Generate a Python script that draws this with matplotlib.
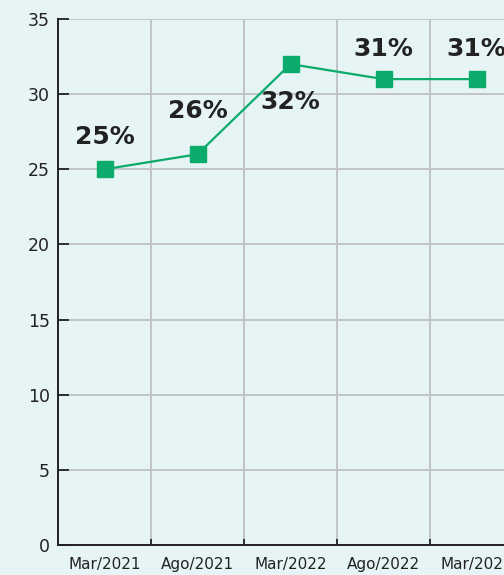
import numpy as np
import matplotlib.pyplot as plt

periods = ['Mar/2021', 'Ago/2021', 'Mar/2022', 'Ago/2022', 'Mar/2023']
values = [25, 26, 32, 31, 31]
labels = ['25%', '26%', '32%', '31%', '31%']

bg = '#e6f4f5'
green = '#0bab6b'
# label offsets in points (negative = below the marker)
label_offsets = [23, 31, -27, 21.5, 21.5]

fig = plt.figure(figsize=(5.04, 5.75), dpi=100, facecolor=bg)
ax = fig.add_axes([58/504, 30/575, 465/504, 526/575], facecolor=bg)

x = np.arange(len(periods))
ax.plot(x, values, color=green, lw=1.6, marker='s', markersize=12, zorder=3)
for xi, v, lab, off in zip(x, values, labels, label_offsets):
    ax.annotate(lab, (xi, v), xytext=(0, off), textcoords='offset points',
                ha='center', va='center', fontsize=18, fontweight='bold', color='#222222')

ax.set_xlim(-0.5, len(periods) - 0.5)
ax.set_ylim(0, 35)
ax.set_yticks(np.arange(0, 36, 5))
ax.set_xticks(x)
ax.set_xticklabels(periods)
ax.set_xticks(x[:-1] + 0.5, minor=True)

ax.tick_params(axis='x', which='major', length=0, pad=9, labelsize=11, colors='#222222')
ax.tick_params(axis='x', which='minor', direction='in', length=4, width=1.3, color='#222222')
ax.tick_params(axis='y', direction='in', length=8, width=1.3, pad=6, labelsize=12.5, colors='#222222')

ax.grid(axis='y', which='major', color='#c0c4c6', lw=1.4)
ax.grid(axis='x', which='minor', color='#c0c4c6', lw=1.4)
ax.set_axisbelow(True)

for s in ['top', 'right']:
    ax.spines[s].set_visible(False)
for s in ['left', 'bottom']:
    ax.spines[s].set_color('#222222')
    ax.spines[s].set_linewidth(1.4)

fig.savefig('out.png', dpi=100, facecolor=bg)
